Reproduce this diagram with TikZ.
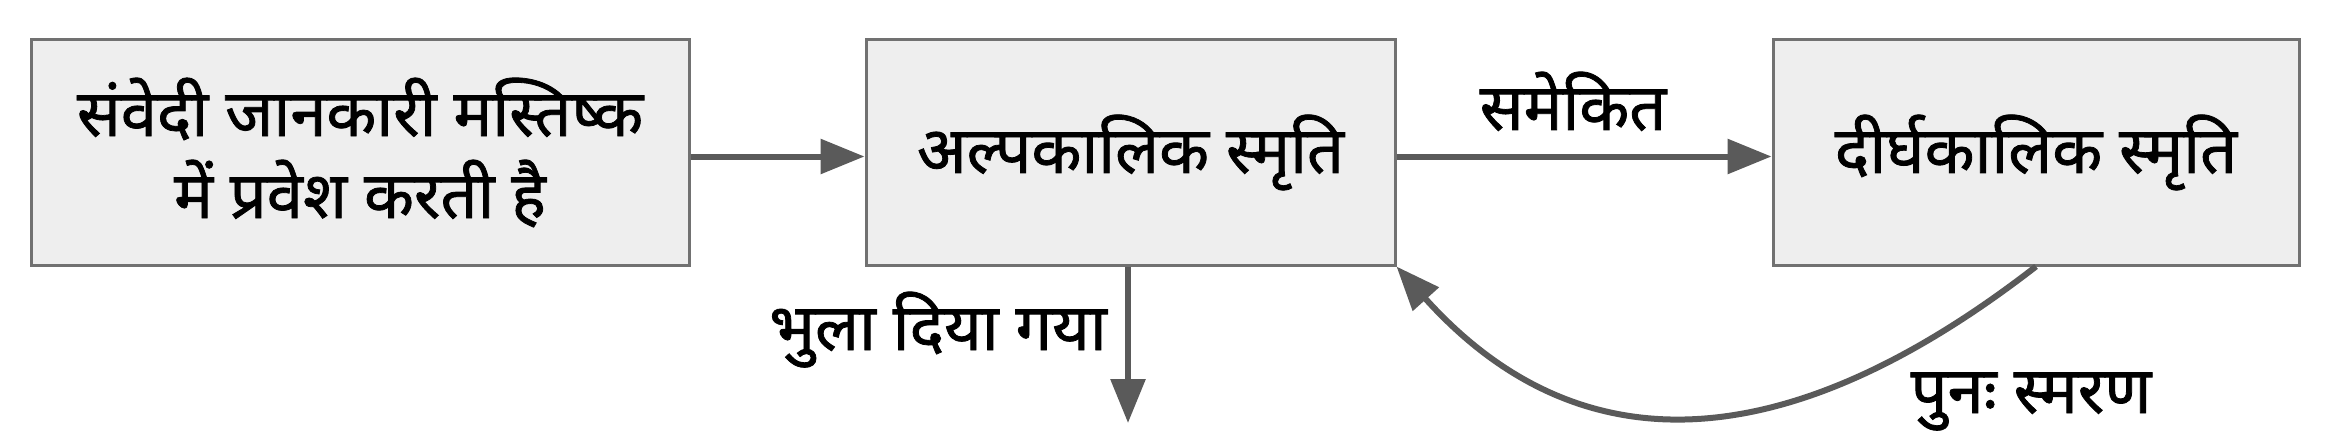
\documentclass[tikz,border=0pt]{standalone}
\usepackage{fontspec}
\newfontfamily\deva[Script=Devanagari,FakeBold=1.2]{Noto Sans}
\usetikzlibrary{arrows.meta}
\definecolor{boxfill}{HTML}{EEEEEE}
\definecolor{boxline}{HTML}{717171}
\definecolor{arrowcol}{HTML}{5A5A5A}
\begin{document}
\begin{tikzpicture}[x=1pt,y=1pt,
  memobox/.style={draw=boxline,fill=boxfill,line width=3pt,inner sep=0pt,
    minimum height=225pt,align=center,font=\deva\fontsize{65}{82}\selectfont},
  flow/.style={draw=arrowcol,line width=6pt,-{Triangle[length=44pt,width=34pt]}},
  lbl/.style={anchor=base,inner sep=0pt,font=\deva\fontsize{65}{70}\selectfont}]
\useasboundingbox (0,0) rectangle (2332,432);
\fill[white] (0,0) rectangle (2332,432);
\node[memobox,minimum width=658pt] (b1) at (360,279.5) {संवेदी जानकारी मस्तिष्क\\में प्रवेश करती है};
\node[memobox,minimum width=529pt] (b2) at (1130.5,279.5) {अल्पकालिक स्मृति};
\node[memobox,minimum width=526pt] (b3) at (2036,279.5) {दीर्घकालिक स्मृति};
\coordinate (fend) at (1128,9);
\draw[flow] ([yshift=-4pt]b1.east) -- ([yshift=-4pt]b2.west);
\draw[flow] ([yshift=-4pt]b2.east) -- ([yshift=-4pt]b3.west);
\draw[flow] ([xshift=-2.5pt]b2.south) -- (fend);
\draw[flow] (b3.south) .. controls (1780,-33) and (1575,-33) .. (b2.south east);
\node[lbl] (l1) at (1573,302) {समेकित};
\node[lbl] (l2) at (938,82) {भुला दिया गया};
\node[lbl] (l3) at (2031,19) {पुनः स्मरण};
\end{tikzpicture}
\end{document}
